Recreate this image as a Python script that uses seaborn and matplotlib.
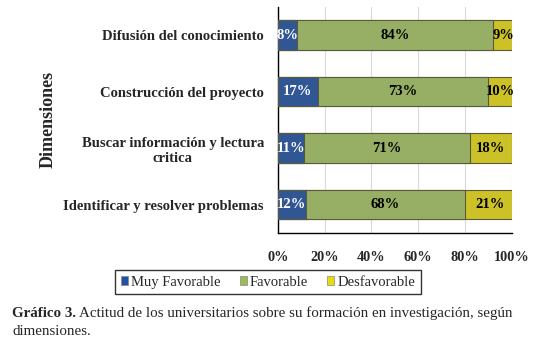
import numpy as np
import pandas as pd
import seaborn as sns
import matplotlib.pyplot as plt
from matplotlib.patches import Patch

dimensiones = ['Difusión del conocimiento', 'Construcción del proyecto',
               'Buscar información y lectura\ncritica', 'Identificar y resolver problemas']
muy_favorable = [8, 17, 11, 12]
favorable = [84, 73, 71, 68]
desfavorable = [9, 10, 18, 21]
series = ['Muy Favorable', 'Favorable', 'Desfavorable']
colors = ['#1F52A3', '#9BBB59', '#E8DA0C']
x_ticks = [0, 20, 40, 60, 80, 100]

df = pd.DataFrame({'Dimension': dimensiones, 'Muy Favorable': muy_favorable,
                   'Favorable': favorable, 'Desfavorable': desfavorable})
df['c1'] = df['Muy Favorable']
df['c2'] = df['c1'] + df['Favorable']
df['c3'] = df['c2'] + df['Desfavorable']

sns.set_style('white')
plt.rcParams['font.family'] = ['Liberation Serif', 'DejaVu Serif']

fig = plt.figure(figsize=(5.48, 3.44), dpi=100)
ax = fig.add_axes([0.507, 0.323, 0.427, 0.657])

# stacked look by overlaying cumulative totals, largest first
for col, c in zip(['c3', 'c2', 'c1'], colors[::-1]):
    sns.barplot(data=df, y='Dimension', x=col, color=c, orient='h', width=0.52,
                edgecolor='#5a5a3a', linewidth=0.8, ax=ax, zorder=3)

ax.set_xlim(0, 100)
ax.set_xticks(x_ticks)
ax.set_xticklabels([f'{t}%' for t in x_ticks], fontweight='bold', fontsize=10.3)
ax.grid(axis='x', color='#d9d9d9', linewidth=0.8, zorder=0)
ax.grid(axis='y', visible=False)
ax.tick_params(axis='x', length=0, pad=13)
ax.tick_params(axis='y', length=0, pad=10)
for lab in ax.get_yticklabels():
    lab.set_fontweight('bold')
    lab.set_fontsize(10.5)
    lab.set_multialignment('center')
ax.set_xlabel('')
ax.set_ylabel('Dimensiones', fontweight='bold', fontsize=13)
ax.yaxis.set_label_coords(-0.945, 0.5)
for s in ['top', 'right']:
    ax.spines[s].set_visible(False)
for s in ['left', 'bottom']:
    ax.spines[s].set_color('black')
    ax.spines[s].set_linewidth(1.0)

# value labels
for i, row in df.iterrows():
    starts = [0, row['c1'], row['c2']]
    vals = [row['Muy Favorable'], row['Favorable'], row['Desfavorable']]
    for j, (s0, v) in enumerate(zip(starts, vals)):
        ax.text(s0 + v / 2, i, f'{v}%', ha='center', va='center', fontweight='bold',
                fontsize=10.5, color='white' if j == 0 else 'black', zorder=5)

handles = [Patch(facecolor=c, edgecolor='#888888', linewidth=0.5) for c in colors]
leg = fig.legend(handles, series, loc='center', bbox_to_anchor=(0.489, 0.180), ncol=3,
                 frameon=True, fontsize=10.5, handlelength=0.5, handleheight=0.5,
                 handletextpad=0.2, columnspacing=1.3, borderpad=0.4, fancybox=False)
leg.get_frame().set_edgecolor('black')
leg.get_frame().set_linewidth(1.0)

# caption: bold prefix followed by regular text
t1 = fig.text(0.022, 1 - 317 / 344, 'Gráfico 3.', fontweight='bold', fontsize=10.8, va='baseline')
fig.canvas.draw()
bb = t1.get_window_extent().transformed(fig.transFigure.inverted())
fig.text(bb.x1 + 0.006, 1 - 317 / 344,
         'Actitud de los universitarios sobre su formación en investigación, según',
         fontsize=10.8, va='baseline')
fig.text(0.022, 1 - 335 / 344, 'dimensiones.', fontsize=10.8, va='baseline')

fig.savefig('out.png', dpi=100)
